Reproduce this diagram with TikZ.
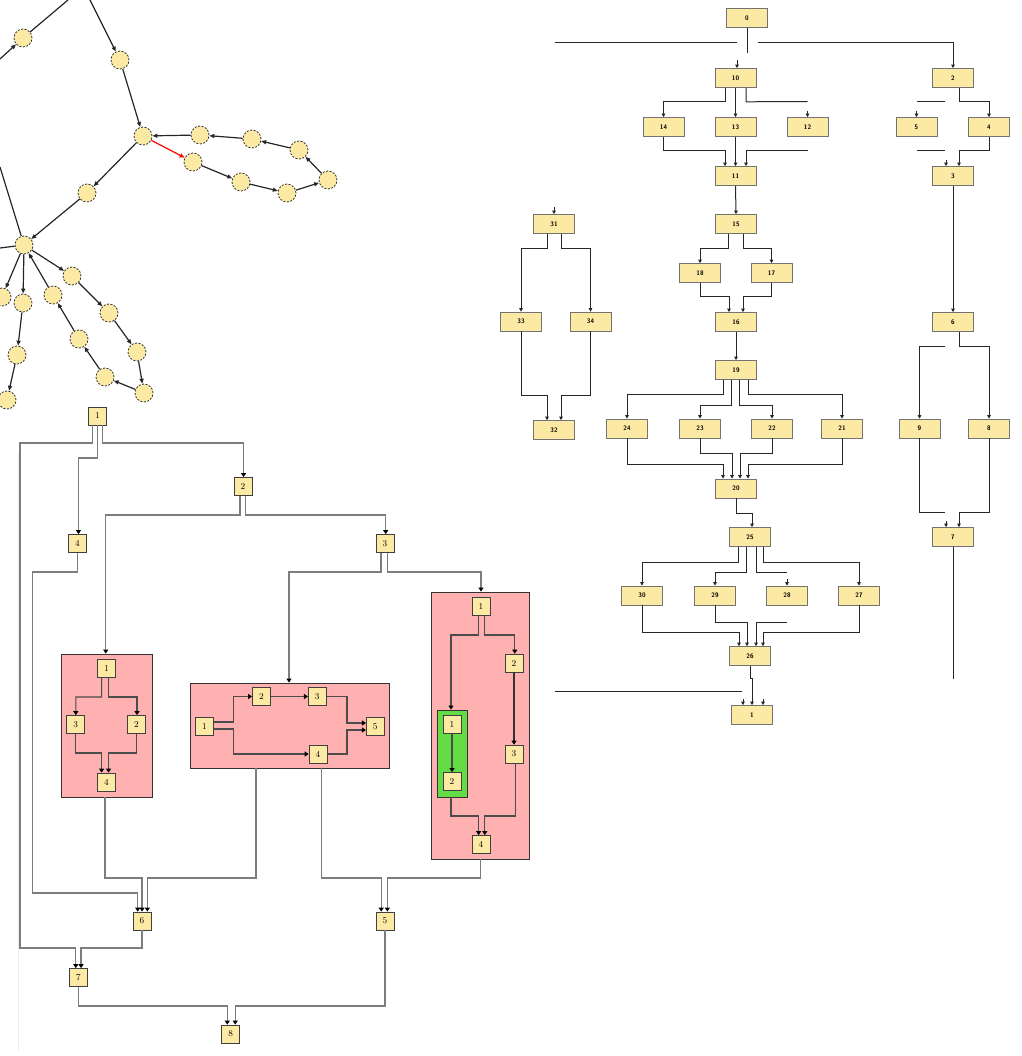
\documentclass[tikz,border=0pt]{standalone}
\usetikzlibrary{arrows.meta}
\definecolor{ylw}{RGB}{251,233,164}
\definecolor{pnk}{RGB}{255,176,176}
\definecolor{grn}{RGB}{100,220,70}
\definecolor{edg}{RGB}{125,125,125}
\begin{document}
\begin{tikzpicture}[x=1pt,y=-1pt,
  circ/.style={circle,fill=ylw,draw=black!80,dash pattern=on 2pt off 1.5pt,line width=0.8pt,minimum size=18pt,inner sep=0},
  tl/.style={line width=1.2pt,draw=black!85},
  tla/.style={tl,-{Triangle[length=5pt,width=4pt]}},
  rbox/.style={fill=ylw,draw=black!55,line width=0.6pt,minimum width=41pt,minimum height=19pt,inner sep=0,font=\fontsize{6.5}{7}\selectfont\sffamily\bfseries},
  rl/.style={line width=1pt,draw=black!85},
  ra/.style={rl,-{Triangle[length=3.5pt,width=3.5pt]}},
  bbox/.style={fill=ylw,draw=black!75,line width=0.7pt,minimum width=18pt,minimum height=18pt,inner sep=0,font=\fontsize{9}{10}\selectfont},
  bl/.style={line width=1.3pt,draw=edg},
  ba/.style={bl,-{Triangle[length=4pt,width=5pt,color=black]}},
  il/.style={line width=1.1pt,draw=black!70},
  ia/.style={il,-{Triangle[length=4pt,width=5pt,color=black]}},
  grp/.style={fill=pnk,draw=black!80,line width=0.8pt,inner sep=0},
  ggrp/.style={fill=grn,draw=black!80,line width=0.8pt,inner sep=0}
]
\useasboundingbox (0,0) rectangle (1021,1056);
\clip (0,0) rectangle (1021,1056);
\draw[black!8,line width=0.8pt] (18,453) -- (18,1050);

% ---------------- top-left graph ----------------
\foreach \n/\x/\y in {A/23/38,B/120/60,C/143/136,D/200/135,E/252/139,F/299/150,G/328/180,H/287/193,I/241/182,J/193/162,K/87/193,L/24/245,M/2/297,N/23/303,O/53/295,P/72/276,Q/109/313,R/137/352,S/144/393,T/105/377,U/79/339,V/17/355,W/7/400}
  \node[circ] (\n) at (\x,\y) {};
\coordinate (t1) at (0,59);
\coordinate (t2) at (68,0);
\coordinate (t3) at (90,0);
\coordinate (t4) at (0,167);
\coordinate (t5) at (0,248);
\draw[tla] (t1) -- (A);
\draw[tl] (A) -- (t2);
\draw[tla] (t3) -- (B);
\draw[tla] (B) -- (C);
\draw[tla] (D) -- (C);
\draw[tla] (E) -- (D);
\draw[tla] (F) -- (E);
\draw[tla] (G) -- (F);
\draw[tla] (H) -- (G);
\draw[tla] (I) -- (H);
\draw[tla] (J) -- (I);
\draw[tla,draw=red] (C) -- (J);
\draw[tla] (C) -- (K);
\draw[tla] (K) -- (L);
\draw[tl] (t4) -- (L);
\draw[tl] (t5) -- (L);
\draw[tla] (L) -- (M);
\draw[tla] (L) -- (N);
\draw[tla] (L) -- (P);
\draw[tla] (P) -- (Q);
\draw[tla] (Q) -- (R);
\draw[tla] (R) -- (S);
\draw[tla] (S) -- (T);
\draw[tla] (T) -- (U);
\draw[tla] (U) -- (O);
\draw[tla] (O) -- (L);
\draw[tla] (N) -- (V);
\draw[tla] (V) -- (W);

% ---------------- right graph ----------------
\node[rbox] (r0) at (747,18) {0};
\node[rbox] (r10) at (735.5,78) {10};
\node[rbox] (r2) at (953,78) {2};
\node[rbox] (r14) at (663.5,127) {14};
\node[rbox] (r13) at (735.5,127) {13};
\node[rbox] (r12) at (807.5,127) {12};
\node[rbox] (r5) at (916.5,127) {5};
\node[rbox] (r4) at (989,127) {4};
\node[rbox] (r11) at (735.5,176) {11};
\node[rbox] (r3) at (953,176) {3};
\node[rbox] (r31) at (554,224) {31};
\node[rbox] (r15) at (736,224) {15};
\node[rbox] (r18) at (700,273) {18};
\node[rbox] (r17) at (771.5,273) {17};
\node[rbox] (r33) at (521,321.5) {33};
\node[rbox] (r34) at (590.5,321.5) {34};
\node[rbox] (r16) at (736,322) {16};
\node[rbox] (r6) at (953,322) {6};
\node[rbox] (r19) at (736,370) {19};
\node[rbox] (r32) at (554,430) {32};
\node[rbox] (r24) at (627,428.5) {24};
\node[rbox] (r23) at (700,428.5) {23};
\node[rbox] (r22) at (772,428.5) {22};
\node[rbox] (r21) at (842,428.5) {21};
\node[rbox] (r9) at (919.5,428.5) {9};
\node[rbox] (r8) at (989,428.5) {8};
\node[rbox] (r20) at (736,488.5) {20};
\node[rbox] (r25) at (750,537) {25};
\node[rbox] (r7) at (953,537) {7};
\node[rbox] (r30) at (642,595.5) {30};
\node[rbox] (r29) at (715,595.5) {29};
\node[rbox] (r28) at (787,595.5) {28};
\node[rbox] (r27) at (859,595.5) {27};
\node[rbox] (r26) at (750,656) {26};
\node[rbox] (r1) at (752,715) {1};

\coordinate (u1) at (747,53);
\coordinate (u2a) at (555,43); \coordinate (u2b) at (737,43);
\coordinate (u3) at (758,43);
\coordinate (u4) at (737,60);
\coordinate (u5) at (807.5,101.5);
\coordinate (u6) at (807.5,111);
\coordinate (u7) at (807.5,150.5);
\coordinate (u8a) at (917,101.5); \coordinate (u8b) at (945,101.5);
\coordinate (u9) at (916.5,111);
\coordinate (u10a) at (917,150.5); \coordinate (u10b) at (945,150.5);
\coordinate (u11) at (946,160);
\coordinate (u12) at (554,207);
\coordinate (u13) at (787,572);
\coordinate (u14) at (787,579);
\coordinate (u15) at (787,622);
\coordinate (u16) at (743,699); \coordinate (u17) at (763,699);
\coordinate (u18a) at (555,691); \coordinate (u18b) at (742,691);
\coordinate (u19) at (945,346);
\coordinate (u20) at (945,512);
\coordinate (u21) at (946,521);
\coordinate (u22) at (953,679);

\draw[rl] (r0.south) -- (u1);
\draw[rl] (u2a) -- (u2b);
\draw[ra] (u3) -| (r2.north);
\draw[ra] (u4) -- ([xshift=1.5pt]r10.north);
\draw[ra] ([xshift=-10.5pt]r10.south) -- ++(0,14) -| (r14.north);
\draw[ra] (r10.south) -- (r13.north);
\draw[rl] ([xshift=10.5pt]r10.south) -- ++(0,14) -- (u5);
\draw[ra] (u6) -- (r12.north);
\draw[ra] (r14.south) -- ++(0,14) -| ([xshift=-10.5pt]r11.north);
\draw[ra] (r13.south) -- (r11.north);
\draw[ra] (u7) -| ([xshift=10.5pt]r11.north);
\draw[ra] ([xshift=6pt]r2.south) -- ++(0,14) -| (r4.north);
\draw[rl] (u8a) -- (u8b);
\draw[ra] (u9) -- (r5.north);
\draw[ra] (r4.south) -- ++(0,14) -| ([xshift=6pt]r3.north);
\draw[rl] (u10a) -- (u10b);
\draw[ra] (u11) -- ([xshift=-7pt]r3.north);
\draw[ra] (r11.south) -- (r15.north);
\draw[ra] (r3.south) -- (r6.north);
\draw[ra] (u12) -- (r31.north);
\draw[ra] ([xshift=-7pt]r31.south) -- ++(0,14.5) -| (r33.north);
\draw[ra] ([xshift=7pt]r31.south) -- ++(0,14.5) -| (r34.north);
\draw[ra] (r33.south) -- (521,395) -| ([xshift=-7pt]r32.north);
\draw[ra] (r34.south) -- (590.5,395) -| ([xshift=7pt]r32.north);
\draw[ra] ([xshift=-8pt]r15.south) -- ++(0,14.5) -| (r18.north);
\draw[ra] ([xshift=7pt]r15.south) -- ++(0,14.5) -| (r17.north);
\draw[ra] (r18.south) -- ++(0,14) -| ([xshift=-7pt]r16.north);
\draw[ra] (r17.south) -- ++(0,14) -| ([xshift=7pt]r16.north);
\draw[ra] (r16.south) -- (r19.north);
\draw[ra] ([xshift=-13pt]r19.south) -- (723,394) -| (r24.north);
\draw[ra] ([xshift=-5pt]r19.south) -- (731,405) -| (r23.north);
\draw[ra] ([xshift=3pt]r19.south) -- (739,405) -| (r22.north);
\draw[ra] ([xshift=12pt]r19.south) -- (748,394) -| (r21.north);
\draw[ra] (r24.south) -- (627,464) -| ([xshift=-13pt]r20.north);
\draw[ra] (r23.south) -- (700,453) -| ([xshift=-4pt]r20.north);
\draw[ra] (r22.south) -- (772,453) -| ([xshift=4pt]r20.north);
\draw[ra] (r21.south) -- (842,464) -| ([xshift=12pt]r20.north);
\draw[ra] (r20.south) -- (736,513) -| ([xshift=2pt]r25.north);
\draw[ra] ([xshift=-12pt]r25.south) -- (738,562) -| (r30.north);
\draw[ra] ([xshift=-4pt]r25.south) -- (746,572) -| (r29.north);
\draw[rl] ([xshift=6pt]r25.south) -- (756,572) -- (u13);
\draw[ra] (u14) -- (r28.north);
\draw[ra] ([xshift=13pt]r25.south) -- (763,562) -| (r27.north);
\draw[ra] (r30.south) -- (642,632) -| ([xshift=-11pt]r26.north);
\draw[ra] (r29.south) -- (715,622) -| ([xshift=-3pt]r26.north);
\draw[ra] (u15) -| ([xshift=6pt]r26.north);
\draw[ra] (r27.south) -- (859,632) -| ([xshift=13pt]r26.north);
\draw[ra] (r26.south) -- ++(0,13) -| (r1.north);
\draw[ra] (u16) -- ([xshift=-9pt]r1.north);
\draw[ra] (u17) -- ([xshift=11pt]r1.north);
\draw[rl] (u18a) -- (u18b);
\draw[ra] ([xshift=6pt]r6.south) -- (959,346) -| (r8.north);
\draw[ra] (u19) -| (r9.north);
\draw[rl] (r9.south) -- (919.5,512) -- (u20);
\draw[ra] (u21) -- ([xshift=-7pt]r7.north);
\draw[ra] (r8.south) -- (989,512) -| ([xshift=6pt]r7.north);
\draw[rl] (r7.south) -- (u22);

% ---------------- bottom-left graph ----------------
\node[grp,minimum width=91pt,minimum height=143pt] (SA) at (106.75,725.5) {};
\node[grp,minimum width=199pt,minimum height=85pt] (SB) at (289.5,725.5) {};
\node[grp,minimum width=98pt,minimum height=267pt] (SC) at (480.4,725.5) {};
\node[ggrp,minimum width=30pt,minimum height=87pt] (SG) at (452,753.5) {};

\node[bbox] (n1) at (97.5,416) {1};
\node[bbox] (n2) at (243,486.5) {2};
\node[bbox] (n4) at (77.5,543.5) {4};
\node[bbox] (n3) at (385,543.5) {3};
\node[bbox] (n6) at (142,921) {6};
\node[bbox] (n5) at (385,921) {5};
\node[bbox] (n7) at (78.5,977.5) {7};
\node[bbox] (n8) at (230.7,1034) {8};

\node[bbox] (a1) at (106.4,668) {1};
\node[bbox] (a3) at (75.8,724.5) {3};
\node[bbox] (a2) at (136.4,724.5) {2};
\node[bbox] (a4) at (106.4,782) {4};

\node[bbox] (b1) at (204.5,726.5) {1};
\node[bbox] (b2) at (261.4,696.5) {2};
\node[bbox] (b3) at (317.3,696.5) {3};
\node[bbox] (b5) at (375.3,726.5) {5};
\node[bbox] (b4) at (318,754) {4};

\node[bbox] (c1) at (481,606.5) {1};
\node[bbox] (c2) at (514,663) {2};
\node[bbox] (g1) at (452,724) {1};
\node[bbox] (g2) at (452,781.5) {2};
\node[bbox] (c3) at (514,754) {3};
\node[bbox] (c4) at (481,844.5) {4};

\draw[ba] ([xshift=-5.2pt]n1.south) -- (92.3,443) -- (20,443) -- (20,948) -| ([xshift=-2.7pt]n7.north);
\draw[ba] (n1.south) -- (97.5,458) -| ([xshift=1pt]n4.north);
\draw[ba] ([xshift=4.8pt]n1.south) -- (102.3,443) -| ([xshift=0.5pt]n2.north);
\draw[ba] ([xshift=-3pt]n2.south) -- (240,515) -| ([xshift=-1pt]SA.north);
\draw[ba] ([xshift=2.5pt]n2.south) -- (245.5,515) -| ([xshift=0.7pt]n3.north);
\draw[ba] ([xshift=-4pt]n3.south) -- (381,572) -| ([xshift=-0.5pt]SB.north);
\draw[ba] ([xshift=2.4pt]n3.south) -- (387.4,572) -| ([xshift=0.6pt]SC.north);
\draw[ba] (n4.south) -- (77.5,572) -- (32.7,572) -- (32.7,893) -| ([xshift=-4.3pt]n6.north);
\draw[ba] ([xshift=-1.75pt]SA.south) -- (105,878) -| (n6.north);
\draw[ba] ([xshift=-33.6pt]SB.south) -- (255.9,878) -| ([xshift=5.4pt]n6.north);
\draw[ba] ([xshift=31.8pt]SB.south) -- (321.3,878) -| ([xshift=-3.8pt]n5.north);
\draw[ba] (SC.south) -- (480.4,878) -| ([xshift=2.4pt]n5.north);
\draw[ba] (n6.south) -- (142,948) -| ([xshift=2.5pt]n7.north);
\draw[ba] (n7.south) -- (78.5,1006) -| ([xshift=-3.4pt]n8.north);
\draw[ba] (n5.south) -- (385,1006) -| ([xshift=4.5pt]n8.north);

\draw[ia] ([xshift=-4.8pt]a1.south) -- (101.6,697) -| (a3.north);
\draw[ia] ([xshift=2.1pt]a1.south) -- (108.5,697) -| ([xshift=0.6pt]a2.north);
\draw[ia] (a3.south) -- (75.8,753) -| ([xshift=-4.8pt]a4.north);
\draw[ia] (a2.south) -- (136.4,753) -| ([xshift=2.1pt]a4.north);

\draw[ia] ([yshift=4.5pt]b1.east) -- (233.5,722) |- (b2.west);
\draw[ia] (b2.east) -- (b3.west);
\draw[ia] (b3.east) -- (347,696.5) |- ([yshift=3.5pt]b5.west);
\draw[ia] ([yshift=-2.5pt]b1.east) -- (233.5,729) |- (b4.west);
\draw[ia] (b4.east) -- (347,754) |- ([yshift=-3.5pt]b5.west);

\draw[ia] ([xshift=-2.4pt]c1.south) -- (478.6,635) -| ([xshift=-1pt]SG.north);
\draw[ia] ([xshift=3.8pt]c1.south) -- (484.8,635) -| ([xshift=0.8pt]c2.north);
\draw[ia,line width=1.6pt,draw=black!80] (c2.south) -- (c3.north);
\draw[ia] (g1.south) -- (g2.north);
\draw[ia] ([xshift=-1pt]SG.south) -- (451,816) -| ([xshift=-2.4pt]c4.north);
\draw[ia] ([xshift=1.5pt]c3.south) -- (515.5,816) -| ([xshift=3.8pt]c4.north);
\end{tikzpicture}
\end{document}
